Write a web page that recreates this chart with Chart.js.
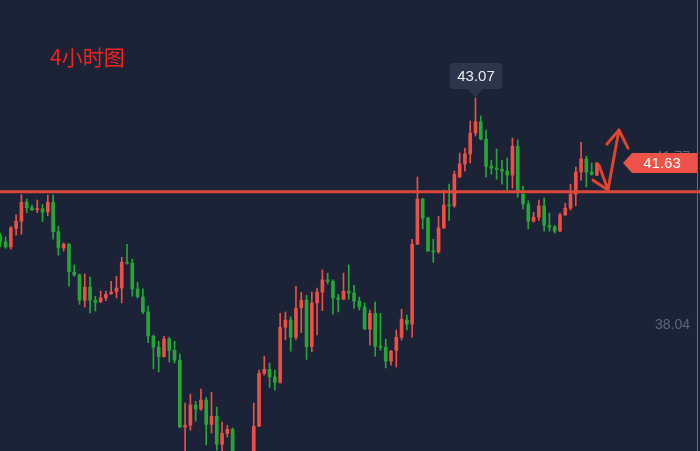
<!DOCTYPE html>
<html>
<head>
<meta charset="utf-8">
<script src="https://cdn.jsdelivr.net/npm/chart.js@4.4.1/dist/chart.umd.min.js"></script>
<style>
    html, body { margin: 0; padding: 0; background: #1d2337; }
    #wrap { position: relative; width: 700px; height: 451px; overflow: hidden; }
    #titulo {
        position: absolute; left: 50px; top: 44px;
        color: #f2211c; font-size: 21px; line-height: 24px;
        font-family: "Noto Sans CJK SC", sans-serif;
    }
</style>
</head>
<body>
<div id="wrap">
    <canvas id="grafico"></canvas>
    <div id="titulo">4小时图</div>
</div>
<script>
// 4h candles (red = up, green = down)
const aberturas = [
    40.02, 39.88, 39.77, 40.18, 40.34, 40.76, 40.64, 40.59, 40.62, 40.55,
    40.76, 40.11, 39.75, 39.83, 39.21, 39.15, 38.59, 38.88, 38.59, 38.55,
    38.64, 38.73, 38.78, 38.86, 39.43, 39.41, 38.84, 38.66, 38.33, 37.79,
    37.55, 37.34, 37.73, 37.48, 37.26, 35.78, 35.82, 36.27, 36.18, 36.38,
    35.84, 36.02, 35.40, 35.64, 35.73, 35.05, 34.80, 34.95, 34.80, 35.80,
    36.97, 37.06, 36.89, 36.77, 37.99, 38.15, 37.77, 38.42, 38.59, 37.56,
    38.53, 38.77, 39.04, 39.01, 38.64, 38.61, 38.79, 38.75, 38.57, 38.44,
    37.95, 38.30, 37.57, 37.55, 37.24, 37.48, 37.77, 38.15, 38.06, 39.83,
    40.83, 40.41, 39.68, 39.66, 40.19, 40.70, 40.68, 41.32, 41.61, 41.83,
    42.29, 42.54, 42.16, 41.56, 41.52, 41.49, 41.45, 41.36, 42.00, 40.94,
    40.72, 40.34, 40.43, 40.68, 40.25, 40.21, 40.12, 40.48, 40.63, 40.94,
    41.43, 41.72, 41.43, 41.36
];
const maximas = [
    40.07, 39.99, 40.22, 40.48, 40.93, 40.83, 40.70, 40.81, 40.71, 40.92,
    40.92, 40.23, 39.86, 39.85, 39.37, 39.17, 39.17, 39.10, 38.68, 38.79,
    38.79, 39.01, 39.12, 39.54, 39.83, 39.50, 38.99, 38.84, 38.46, 37.82,
    37.68, 37.79, 37.77, 37.68, 37.40, 36.31, 36.51, 36.35, 36.62, 36.44,
    36.55, 36.22, 35.89, 35.82, 35.76, 35.15, 35.10, 35.05, 36.31, 37.04,
    37.35, 37.20, 37.04, 38.30, 38.33, 38.22, 38.90, 38.77, 38.70, 38.77,
    38.86, 39.26, 39.19, 39.04, 38.72, 39.19, 39.37, 38.92, 38.66, 38.53,
    38.37, 38.55, 38.30, 37.73, 37.48, 37.93, 38.39, 38.26, 39.94, 41.32,
    40.85, 40.43, 39.94, 40.45, 41.03, 41.16, 41.45, 41.85, 41.96, 42.56,
    43.07, 42.67, 42.36, 41.69, 41.94, 41.69, 41.74, 42.18, 42.14, 41.12,
    40.79, 40.54, 40.81, 40.85, 40.52, 40.25, 40.52, 40.74, 41.16, 41.54,
    42.09, 41.78, 41.63, 41.64
];
const minimas = [
    39.77, 39.74, 39.72, 40.03, 40.05, 40.53, 40.58, 40.53, 40.33, 40.46,
    39.94, 39.59, 39.68, 38.90, 39.12, 38.50, 38.44, 38.31, 38.35, 38.54,
    38.58, 38.72, 38.64, 38.53, 39.39, 38.68, 38.64, 38.29, 37.65, 37.07,
    37.00, 37.33, 37.22, 37.20, 35.77, 35.16, 35.71, 35.91, 36.15, 35.38,
    35.65, 35.27, 35.16, 35.56, 34.94, 34.70, 34.65, 34.60, 34.65, 35.79,
    36.93, 36.66, 36.60, 36.75, 37.71, 37.46, 37.71, 37.87, 37.28, 37.45,
    37.82, 38.36, 38.95, 38.28, 38.33, 38.60, 38.61, 38.41, 38.37, 37.94,
    37.60, 37.35, 37.48, 37.09, 37.15, 37.11, 37.71, 37.93, 37.77, 39.82,
    40.17, 39.67, 39.43, 39.63, 40.18, 40.36, 40.65, 41.31, 41.45, 41.63,
    42.23, 42.14, 41.32, 41.38, 41.27, 41.16, 41.03, 41.07, 40.87, 40.61,
    40.17, 40.32, 40.36, 40.12, 40.12, 40.08, 40.11, 40.47, 40.59, 40.68,
    41.25, 41.10, 41.36, 41.35
];
const fechamentos = [
    39.88, 39.77, 40.19, 40.34, 40.76, 40.64, 40.59, 40.62, 40.54, 40.76,
    40.11, 39.75, 39.83, 39.22, 39.15, 38.59, 38.88, 38.59, 38.54, 38.64,
    38.72, 38.77, 38.86, 39.43, 39.41, 38.84, 38.67, 38.33, 37.80, 37.55,
    37.34, 37.73, 37.48, 37.26, 35.78, 35.82, 36.27, 36.18, 36.38, 35.84,
    36.02, 35.40, 35.64, 35.73, 35.05, 34.80, 34.95, 34.75, 35.80, 36.97,
    37.06, 36.89, 36.77, 37.99, 38.15, 37.77, 38.41, 38.59, 37.56, 38.53,
    38.77, 39.04, 39.01, 38.64, 38.61, 38.79, 38.75, 38.57, 38.44, 37.95,
    38.30, 37.57, 37.55, 37.24, 37.46, 37.77, 38.17, 38.06, 39.83, 40.83,
    40.41, 39.68, 39.66, 40.19, 40.70, 40.68, 41.38, 41.61, 41.83, 42.29,
    42.54, 42.16, 41.56, 41.52, 41.49, 41.45, 41.36, 42.00, 41.01, 40.72,
    40.34, 40.43, 40.68, 40.25, 40.21, 40.12, 40.48, 40.63, 40.94, 41.43,
    41.72, 41.43, 41.38, 41.63
];

// price levels and hand drawn marks (x = candle index, y = price)
const nivelHorizontal = 40.99;
const rotulosEixo = [41.77, 38.04];
const setaPrincipal = [[113.39, 41.58], [115.09, 41.03], [117.17, 42.36], [118.88, 41.96]];
const setaPontaBaixo = [[112.25, 41.25], [115.09, 41.03]];
const setaPontaCima = [[114.9, 42.05], [117.17, 42.36]];

const corAlta = "#ec4f45";
const corBaixa = "#27a638";
const corSeta = "#dc4530";

const cores = fechamentos.map((c, i) => c >= aberturas[i] ? corAlta : corBaixa);
const pavios = maximas.map((h, i) => ({ x: i, y: [minimas[i], h] }));
const corpos = aberturas.map((o, i) => ({ x: i, y: [o, fechamentos[i]] }));

function pontos(lista) {
    return lista.map(p => ({ x: p[0], y: p[1] }));
}

function linhaSeta(lista) {
    return {
        type: 'line',
        data: pontos(lista),
        borderColor: corSeta,
        borderWidth: 3,
        borderCapStyle: 'round',
        borderJoinStyle: 'round',
        pointRadius: 0,
        order: 0
    };
}

function caixaArredondada(ctx, x, y, w, h, r) {
    ctx.beginPath();
    ctx.moveTo(x + r, y);
    ctx.lineTo(x + w - r, y);
    ctx.quadraticCurveTo(x + w, y, x + w, y + r);
    ctx.lineTo(x + w, y + h - r);
    ctx.quadraticCurveTo(x + w, y + h, x + w - r, y + h);
    ctx.lineTo(x + r, y + h);
    ctx.quadraticCurveTo(x, y + h, x, y + h - r);
    ctx.lineTo(x, y + r);
    ctx.quadraticCurveTo(x, y, x + r, y);
    ctx.closePath();
}

const rotulos = {
    id: 'rotulos',
    afterDatasetsDraw(chart) {
        const { ctx, chartArea, scales: { x, y } } = chart;
        ctx.save();

        // thin border at the right edge
        ctx.strokeStyle = "#a85a3a";
        ctx.lineWidth = 1;
        ctx.beginPath();
        ctx.moveTo(chartArea.right - 2.5, chartArea.top);
        ctx.lineTo(chartArea.right - 2.5, chartArea.bottom);
        ctx.stroke();

        // grey axis labels
        ctx.font = '14px "Liberation Sans", Arial, sans-serif';
        ctx.fillStyle = "#5c6479";
        ctx.textAlign = 'right';
        ctx.textBaseline = 'middle';
        rotulosEixo.forEach(v => ctx.fillText(v.toFixed(2), chartArea.right - 10, y.getPixelForValue(v)));

        // last price tag
        const ultimo = fechamentos[fechamentos.length - 1];
        const py = y.getPixelForValue(ultimo);
        const direita = chartArea.right - 3;
        ctx.fillStyle = "#ef5246";
        ctx.beginPath();
        ctx.moveTo(623, py);
        ctx.lineTo(632, py - 10);
        ctx.lineTo(direita, py - 10);
        ctx.lineTo(direita, py + 10);
        ctx.lineTo(632, py + 10);
        ctx.closePath();
        ctx.fill();
        ctx.fillStyle = "#ffffff";
        ctx.font = '15px "Liberation Sans", Arial, sans-serif';
        ctx.textAlign = 'center';
        ctx.fillText(ultimo.toFixed(2), 662, py + 1);

        // high marker tooltip
        let iMax = 0;
        maximas.forEach((h, i) => { if (h > maximas[iMax]) iMax = i; });
        const tx = x.getPixelForValue(iMax);
        const ty = y.getPixelForValue(maximas[iMax]);
        ctx.fillStyle = "#2d354d";
        caixaArredondada(ctx, tx - 26, ty - 35, 53, 26, 3);
        ctx.fill();
        ctx.beginPath();
        ctx.moveTo(tx - 8, ty - 9.5);
        ctx.lineTo(tx + 8, ty - 9.5);
        ctx.lineTo(tx, ty - 1);
        ctx.closePath();
        ctx.fill();
        ctx.fillStyle = "#e8eaf0";
        ctx.font = '15px "Liberation Sans", Arial, sans-serif';
        ctx.fillText(maximas[iMax].toFixed(2), tx + 0.5, ty - 21.5);

        ctx.restore();
    }
};

new Chart(document.getElementById("grafico"), {
    type: 'bar',
    data: {
        datasets: [
            {
                type: 'line',
                data: [{ x: -5, y: nivelHorizontal }, { x: 140, y: nivelHorizontal }],
                borderColor: "#d9483a",
                borderWidth: 3,
                pointRadius: 0,
                order: 0
            },
            linhaSeta(setaPrincipal),
            linhaSeta(setaPontaBaixo),
            linhaSeta(setaPontaCima),
            {
                data: corpos,
                backgroundColor: cores,
                barThickness: 3,
                minBarLength: 1,
                grouped: false,
                order: 1
            },
            {
                data: pavios,
                backgroundColor: cores,
                barThickness: 1,
                grouped: false,
                order: 2
            }
        ]
    },
    options: {
        responsive: true,
        maintainAspectRatio: false,
        animation: false,
        layout: { padding: 0 },
        plugins: {
            legend: { display: false },
            tooltip: { enabled: false }
        },
        scales: {
            x: { type: 'linear', min: -0.057, max: 132.52, offset: false, display: false },
            y: { min: 35.25, max: 45.24, display: false }
        }
    },
    plugins: [rotulos]
});
</script>
</body>
</html>
